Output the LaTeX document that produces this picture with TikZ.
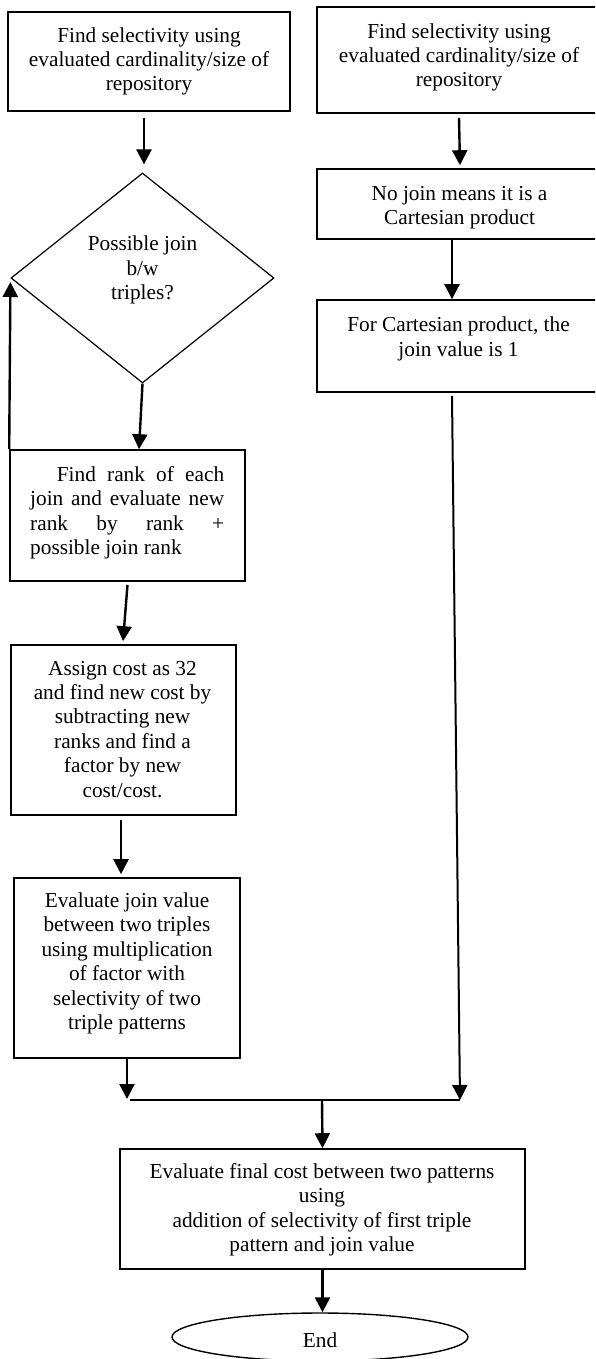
\documentclass[tikz,border=0pt]{standalone}
\usepackage{fontspec}
\setmainfont{Liberation Serif}
\usetikzlibrary{shapes.geometric,arrows.meta}
\newcommand{\fs}{\fontsize{21.3pt}{24.4pt}\selectfont}
\begin{document}
\begin{tikzpicture}[x=1pt,y=-1pt,
  box/.style={draw, line width=1.6pt, rectangle, inner sep=0pt},
  txt/.style={inner sep=0pt, align=center, font=\fs, anchor=base},
  arr/.style={line width=2.4pt, -{Triangle[length=15pt,width=15pt]}},
  thinline/.style={line width=1.4pt}]
\useasboundingbox (0,0) rectangle (595,1359);
\clip (0,0) rectangle (595,1359);

% left column (text nodes are placed at the baseline of their last line)
\node[box, minimum width=282pt, minimum height=99pt] (l1) at (149,61.5) {};
\node[txt] (l1t) at (149,91) {Find selectivity using\\evaluated cardinality/size of\\repository};

\node[draw, diamond, line width=1.2pt, minimum width=263pt, minimum height=210pt, inner sep=0pt] (dia) at (142.5,278) {};
\node[txt] (diat) at (142.5,299.5) {Possible join\\b/w\\triples?};

\node[box, minimum width=235pt, minimum height=131pt] (rank) at (127.5,515.5) {};
\node[inner sep=0pt, align=left, font=\fs, anchor=base west] (rankt) at (30,554.5)
  {\hspace*{26.7pt}\makebox[167.3pt][s]{Find rank of each}\\\makebox[194pt][s]{join and evaluate new}\\\makebox[194pt][s]{rank by rank +}\\possible join rank};

\node[box, minimum width=225pt, minimum height=170pt] (assign) at (123.5,730) {};
\node[txt] (assignt) at (122.5,797) {Assign cost as 32\\and find new cost by\\subtracting new\\ranks and find a\\factor by new\\cost/cost.};

\node[box, minimum width=226pt, minimum height=180pt] (eval) at (127,968) {};
\node[txt] (evalt) at (127,1029.5) {Evaluate join value\\between two triples\\using multiplication\\of factor with\\selectivity of two\\triple patterns};

% right column
\node[box, minimum width=284pt, minimum height=106pt] (r1) at (459,60) {};
\node[txt] (r1t) at (459,87) {Find selectivity using\\evaluated cardinality/size of\\repository};

\node[box, minimum width=284pt, minimum height=70pt] (r2) at (459,204) {};
\node[txt] (r2t) at (459.5,224.5) {No join means it is a\\Cartesian product};

\node[box, minimum width=284pt, minimum height=92pt] (r3) at (459,346) {};
\node[txt] (r3t) at (458.5,356) {For Cartesian product, the\\join value is 1};

% bottom
\node[box, minimum width=405pt, minimum height=120pt] (final) at (322.5,1209) {};
\node[txt] (finalt) at (322,1251.5) {Evaluate final cost between two patterns\\using\\addition of selectivity of first triple\\pattern and join value};

\node[draw, ellipse, line width=1.4pt, minimum width=296pt, minimum height=48pt, inner sep=0pt] (end) at (320,1337) {};
\node[txt] (endt) at (320,1347) {End};

% junction
\coordinate (jL) at (130,1100);
\coordinate (jM) at (322,1100);
\coordinate (jR) at (460,1100);

% connectors
\draw[arr] ([xshift=-5pt,yshift=-6pt]l1.south) -- ([xshift=1.5pt,yshift=8pt]dia.north);
\draw[arr] ([yshift=-4pt]r1.south) -- ([xshift=1pt,yshift=3pt]r2.north);
\draw[arr] ([xshift=-7pt]r2.south) -- ([xshift=-7pt]r3.north);
\draw[arr] (dia.south) -- ([xshift=11.5pt]rank.north);
\draw[arr] (rank.north west) -- ([yshift=-4pt]dia.west);
\draw[arr] ([yshift=-3pt]rank.south) -- ([xshift=-0.5pt,yshift=3pt]assign.north);
\draw[arr] ([xshift=-2.5pt,yshift=-4pt]assign.south) -- ([xshift=-6pt,yshift=3pt]eval.north);
\draw[arr] (eval.south) -- ([xshift=-3pt,yshift=1pt]jL);
\draw[arr, line width=2pt] ([xshift=-7pt,yshift=-3pt]r3.south) -- (jR);
\draw[thinline] (jL) -- (jR);
\draw[arr] (jM) -- (final.north);
\draw[arr] (final.south) -- (final.south |- end.north);
\end{tikzpicture}
\end{document}
